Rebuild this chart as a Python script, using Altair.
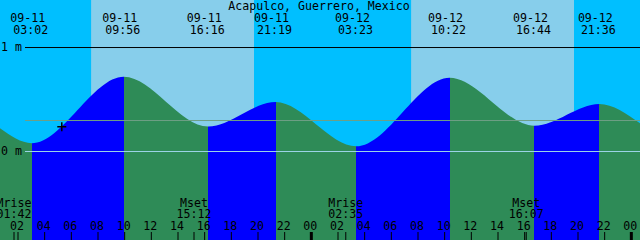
import altair as alt
import pandas as pd

# ---------------- data ----------------
title_text = "Acapulco, Guerrero, Mexico"

tide_dates = ["09-11", "09-11", "09-11", "09-11", "09-12", "09-12", "09-12", "09-12"]
tide_times = ["03:02", "09:56", "16:16", "21:19", "03:23", "10:22", "16:44", "21:36"]
tide_heights = [0.08, 0.72, 0.24, 0.476, 0.05, 0.71, 0.248, 0.457]

edge_dates = ["09-11", "09-13"]
edge_times = ["00:39", "00:39"]
edge_heights = [0.223, 0.271]

sun_dates = ["09-11", "09-12"]
sunrise_times = ["07:29", "07:29"]
sunset_times = ["19:42", "19:42"]

moon_dates = ["09-11", "09-11", "09-12", "09-12"]
moon_times = ["01:42", "15:12", "02:35", "16:07"]
moon_events = ["Mrise", "Mset", "Mrise", "Mset"]

tick_hours = [2, 4, 6, 8, 10, 12, 14, 16, 18, 20, 22, 24,
              26, 28, 30, 32, 34, 36, 38, 40, 42, 44, 46, 48]

mean_level = 0.298
now_date, now_time, now_height = "09-11", "05:17", 0.238

y_labels = ["1 m", "0 m"]
y_label_values = [1.0, 0.0]

# ---------------- helpers ----------------
def hrs(date, time):
    day = int(date[-2:]) - 11
    h, m = time.split(":")
    return day * 24 + int(h) + int(m) / 60.0

x0 = hrs(edge_dates[0], edge_times[0])
x1 = hrs(edge_dates[1], edge_times[1])
Y_MIN, Y_MAX = -0.851, 1.457
XS = alt.Scale(domain=[x0, x1], nice=False, zero=False)
YS = alt.Scale(domain=[Y_MIN, Y_MAX], nice=False, zero=False)

FONT = "DejaVu Sans Mono"
FS = 11.6

tides = pd.DataFrame({
    "date": tide_dates,
    "time": tide_times,
    "h": [hrs(d, t) for d, t in zip(tide_dates, tide_times)],
    "height": tide_heights,
})

curve = pd.DataFrame({
    "h": [hrs(d, t) for d, t in zip(edge_dates, edge_times)] + list(tides["h"]),
    "height": edge_heights + tide_heights,
}).sort_values("h")
curve["base"] = Y_MIN

# gradient: green while falling, blue while rising
GREEN, BLUE = "#2E8B57", "#0000FF"
stops = [alt.GradientStop(color=GREEN, offset=0)]
ext = list(tides["h"])
for i, hh in enumerate(ext):
    off = (hh - x0) / (x1 - x0)
    nxt = tide_heights[i + 1] if i + 1 < len(ext) else edge_heights[1]
    rising_after = tide_heights[i] < nxt
    before = GREEN if rising_after else BLUE
    after = BLUE if rising_after else GREEN
    stops.append(alt.GradientStop(color=before, offset=off))
    stops.append(alt.GradientStop(color=after, offset=off))
stops.append(alt.GradientStop(color=GREEN, offset=1))
grad = alt.LinearGradient(gradient="linear", stops=stops, x1=0, x2=1, y1=0, y2=0)

sun = pd.DataFrame({
    "rise": [hrs(d, t) for d, t in zip(sun_dates, sunrise_times)],
    "set": [hrs(d, t) for d, t in zip(sun_dates, sunset_times)],
})

moon = pd.DataFrame({
    "h": [hrs(d, t) for d, t in zip(moon_dates, moon_times)],
    "ev": moon_events,
    "time": moon_times,
})

ticks = pd.DataFrame({
    "h": tick_hours,
    "lab": [f"{h % 24:02d}" for h in tick_hours],
    "w": [3 if h % 24 == 0 else 1 for h in tick_hours],
})

# ---------------- layers ----------------
day = alt.Chart(sun).mark_rect(color="#87CEEB").encode(
    x=alt.X("rise:Q", scale=XS, axis=None), x2="set:Q",
    y=alt.value(0), y2=alt.value(240))

area = alt.Chart(curve).mark_area(interpolate="monotone", color=grad, opacity=1).encode(
    x=alt.X("h:Q", scale=XS, axis=None),
    y=alt.Y("height:Q", scale=YS, axis=None),
    y2="base:Q")

def hline(v, col):
    return alt.Chart(pd.DataFrame({"v": [v]})).mark_rule(strokeWidth=1, color=col).encode(
        y=alt.Y("v:Q", scale=YS, axis=None),
        x=alt.value(25), x2=alt.value(640))

line_one = hline(1.0, "#000000")
line_zero = hline(0.0, "#9BD3E6")
line_mean = hline(mean_level, "#6E9F86")

ylab = alt.Chart(pd.DataFrame({"v": y_label_values, "t": y_labels})).mark_text(
    font=FONT, fontSize=FS, align="left", baseline="middle", color="black").encode(
    y=alt.Y("v:Q", scale=YS, axis=None), x=alt.value(1), text="t:N")

title = alt.Chart(pd.DataFrame({"t": [title_text]})).mark_text(
    font=FONT, fontSize=FS, align="center", baseline="alphabetic", color="black").encode(
    x=alt.value(319), y=alt.value(9.5), text="t:N")

date_lab = alt.Chart(tides).mark_text(
    font=FONT, fontSize=FS, align="center", baseline="alphabetic", color="black", dx=-4).encode(
    x=alt.X("h:Q", scale=XS, axis=None), y=alt.value(21.5), text="date:N")
time_lab = alt.Chart(tides).mark_text(
    font=FONT, fontSize=FS, align="center", baseline="alphabetic", color="black", dx=-1).encode(
    x=alt.X("h:Q", scale=XS, axis=None), y=alt.value(34), text="time:N")

moon_ev = alt.Chart(moon).mark_text(
    font=FONT, fontSize=FS, align="center", baseline="alphabetic", color="black").encode(
    x=alt.X("h:Q", scale=XS, axis=None), y=alt.value(207), text="ev:N")
moon_t = alt.Chart(moon).mark_text(
    font=FONT, fontSize=FS, align="center", baseline="alphabetic", color="black").encode(
    x=alt.X("h:Q", scale=XS, axis=None), y=alt.value(217.5), text="time:N")
moon_tick = alt.Chart(moon).mark_rule(color="black", strokeWidth=1).encode(
    x=alt.X("h:Q", scale=XS, axis=None), y=alt.value(232), y2=alt.value(240))

hour_lab = alt.Chart(ticks).mark_text(
    font=FONT, fontSize=FS, align="center", baseline="alphabetic", color="black", dx=-1).encode(
    x=alt.X("h:Q", scale=XS, axis=None), y=alt.value(229.5), text="lab:N")
hour_tick = alt.Chart(ticks).mark_rule(color="black").encode(
    x=alt.X("h:Q", scale=XS, axis=None), y=alt.value(232), y2=alt.value(240),
    strokeWidth=alt.StrokeWidth("w:Q", scale=None))

now = alt.Chart(pd.DataFrame({"h": [hrs(now_date, now_time)], "height": [now_height]})).mark_point(
    shape="M-1,0L1,0M0,-1L0,1", size=81, stroke="black", strokeWidth=1.5, filled=False, opacity=1).encode(
    x=alt.X("h:Q", scale=XS, axis=None), y=alt.Y("height:Q", scale=YS, axis=None))

chart = alt.layer(day, area, line_one, line_zero, line_mean, ylab, title, date_lab, time_lab,
                  moon_ev, moon_t, moon_tick, hour_lab, hour_tick, now).properties(
    width=640, height=240, padding=0, autosize="none", background="#00BFFF"
).configure_view(stroke=None)

chart.save("out.html", embed_options={"renderer": "svg", "actions": False})
